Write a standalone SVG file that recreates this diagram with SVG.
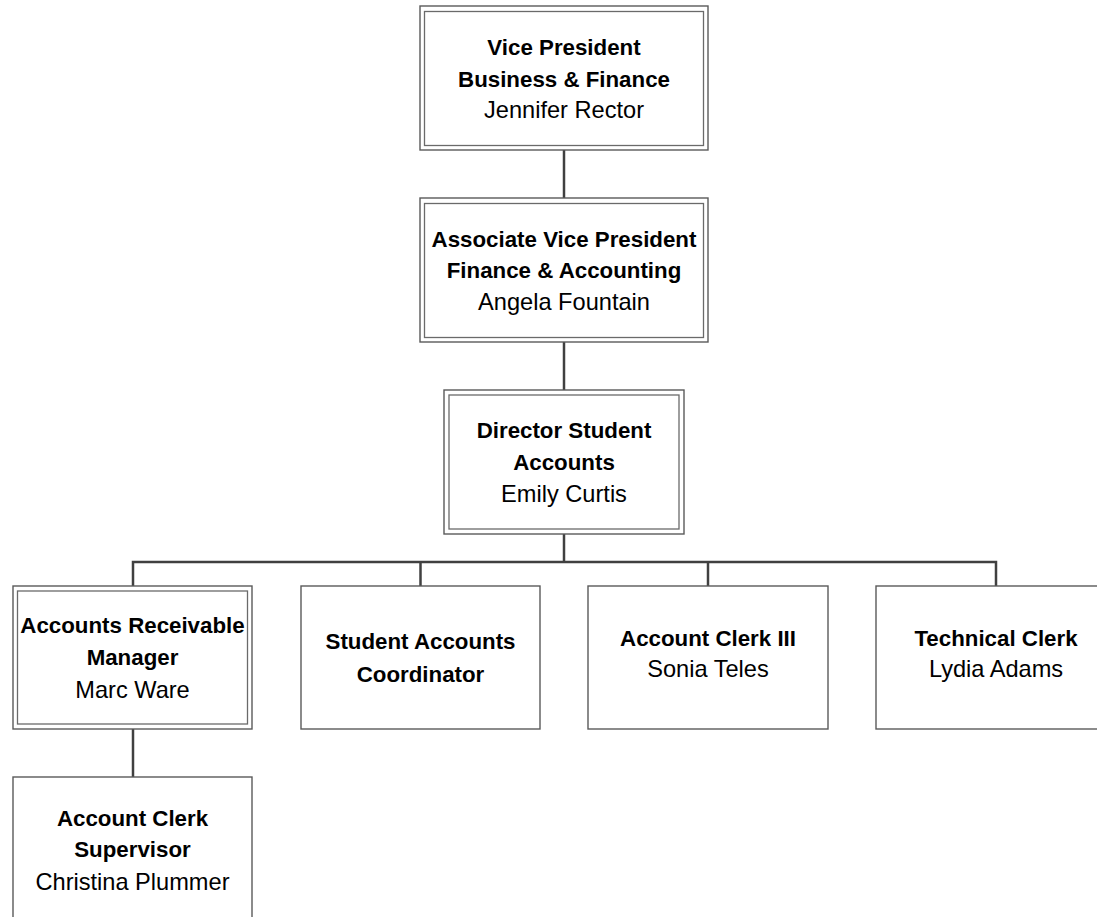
<svg xmlns="http://www.w3.org/2000/svg" width="1097" height="917" viewBox="0 0 1097 917">
<style>
.box{fill:#fff;stroke:#5a5a5a;stroke-width:1.4}
.inner{fill:none;stroke:#6a6a6a;stroke-width:1.3}
.conn{fill:none;stroke:#404040;stroke-width:2.5}
text{font-family:"Liberation Sans",Arial,sans-serif;fill:#000;text-anchor:middle}
.t{font-weight:bold;font-size:22.3px}
.n{font-size:23.6px}
</style>
<rect width="1097" height="917" fill="#fff"/>
<g id="connectors">
<path class="conn" d="M564 150V198"/>
<path class="conn" d="M564 342V390"/>
<path class="conn" d="M564 534V562"/>
<path class="conn" d="M133 586V562H996V586"/>
<path class="conn" d="M420.5 562V586"/>
<path class="conn" d="M708 562V586"/>
<path class="conn" d="M133 729V777"/>
</g>
<g id="vp">
<rect class="box" x="420" y="6" width="288" height="144"/>
<rect class="inner" x="424.5" y="11.5" width="279" height="134"/>
<text class="t" x="564" y="55">Vice President</text>
<text class="t" x="564" y="87">Business &amp; Finance</text>
<text class="n" x="564" y="118">Jennifer Rector</text>
</g>
<g id="avp">
<rect class="box" x="420" y="198" width="288" height="144"/>
<rect class="inner" x="424.5" y="203.5" width="279" height="134"/>
<text class="t" x="564" y="247">Associate Vice President</text>
<text class="t" x="564" y="278">Finance &amp; Accounting</text>
<text class="n" x="564" y="310">Angela Fountain</text>
</g>
<g id="director">
<rect class="box" x="444" y="390" width="240" height="144"/>
<rect class="inner" x="449" y="395" width="230" height="134"/>
<text class="t" x="564" y="438">Director Student</text>
<text class="t" x="564" y="470">Accounts</text>
<text class="n" x="564" y="502">Emily Curtis</text>
</g>
<g id="ar-manager">
<rect class="box" x="13" y="586" width="239" height="143"/>
<rect class="inner" x="17.5" y="591" width="230" height="133"/>
<text class="t" x="132.5" y="633">Accounts Receivable</text>
<text class="t" x="132.5" y="665">Manager</text>
<text class="n" x="132.5" y="698">Marc Ware</text>
</g>
<g id="sac">
<rect class="box" x="301" y="586" width="239" height="143"/>
<text class="t" x="420.5" y="649">Student Accounts</text>
<text class="t" x="420.5" y="682">Coordinator</text>
</g>
<g id="clerk3">
<rect class="box" x="588" y="586" width="240" height="143"/>
<text class="t" x="708" y="646">Account Clerk III</text>
<text class="n" x="708" y="677">Sonia Teles</text>
</g>
<g id="tech-clerk">
<rect class="box" x="876" y="586" width="240" height="143"/>
<text class="t" x="996" y="646">Technical Clerk</text>
<text class="n" x="996" y="677">Lydia Adams</text>
</g>
<g id="supervisor">
<rect class="box" x="13" y="777" width="239" height="160"/>
<text class="t" x="132.5" y="826">Account Clerk</text>
<text class="t" x="132.5" y="857">Supervisor</text>
<text class="n" x="132.5" y="890">Christina Plummer</text>
</g>
</svg>
